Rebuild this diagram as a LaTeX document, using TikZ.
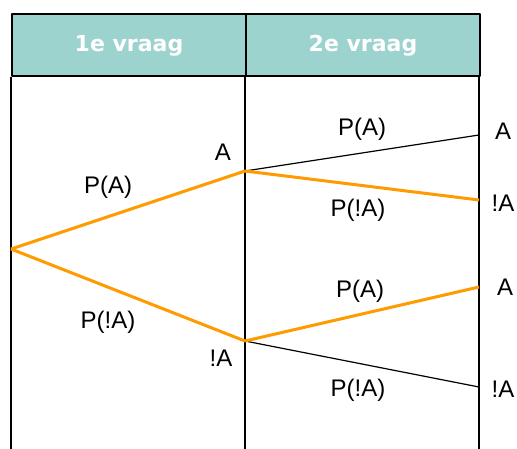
\documentclass[tikz,border=0pt]{standalone}
\usepackage{fontspec}
\setmainfont{Liberation Sans}
\newfontfamily\kopfont{DejaVu Sans}
\definecolor{kopkleur}{HTML}{9DD3CF}
\definecolor{takkleur}{HTML}{FF9A00}
\tikzset{
  kopvak/.style={draw, fill=kopkleur, line width=1.5pt},
  koptekst/.style={text=white, font=\kopfont\bfseries\fontsize{22}{24}\selectfont},
  tak/.style={takkleur, line width=3pt},
  dun/.style={black, line width=1.2pt},
  lbl/.style={inner sep=1pt}
}
\begin{document}
\begin{tikzpicture}[x=1pt, y=-1pt, font=\fontsize{24}{26}\selectfont, line join=round]
    \def\xa{11}\def\xb{245}\def\xc{479}
    \useasboundingbox (0,0) rectangle (517,448);
    % kop van de tabel
    \draw[kopvak] (12,14) rectangle (246,76);
    \draw[kopvak] (246,14) rectangle (480,76);
    \node[koptekst] (k1) at (129,46) {1e vraag};
    \node[koptekst] (k2) at (363,46) {2e vraag};
    % kolomlijnen
    \foreach \x in {\xa,\xb,\xc}\draw[line width=1.5pt] (\x,77)--(\x,449);
    % punten van de boom
    \coordinate (O) at (\xa,249);
    \coordinate (A) at (\xb,171);
    \coordinate (nA) at (\xb,341);
    \coordinate (AA) at (\xc,135);
    \coordinate (AnA) at (\xc,200);
    \coordinate (nAA) at (\xc,287);
    \coordinate (nAnA) at (\xc,387);
    % takken
    \draw[dun] (A)--(AA);
    \draw[dun] (nA)--(nAnA);
    \draw[tak] (O)--(A);
    \draw[tak] (O)--(nA);
    \draw[tak] (A)--(AnA);
    \draw[tak] (nA)--(nAA);
    % kansen
    \node[lbl] (p1) at (108,187) {P(A)};
    \node[lbl] (p2) at (108,322) {P(!A)};
    \node[lbl] (p3) at (362,129) {P(A)};
    \node[lbl] (p4) at (358,210) {P(!A)};
    \node[lbl] (p5) at (360,291) {P(A)};
    \node[lbl] (p6) at (358,390) {P(!A)};
    % uitkomsten
    \node[lbl] (u1) at (223,152) {A};
    \node[lbl] (u2) at (221,358) {!A};
    \node[lbl] (u3) at (503,131) {A};
    \node[lbl] (u4) at (503,203) {!A};
    \node[lbl] (u5) at (505,287) {A};
    \node[lbl] (u6) at (503,389) {!A};
\end{tikzpicture}
\end{document}
